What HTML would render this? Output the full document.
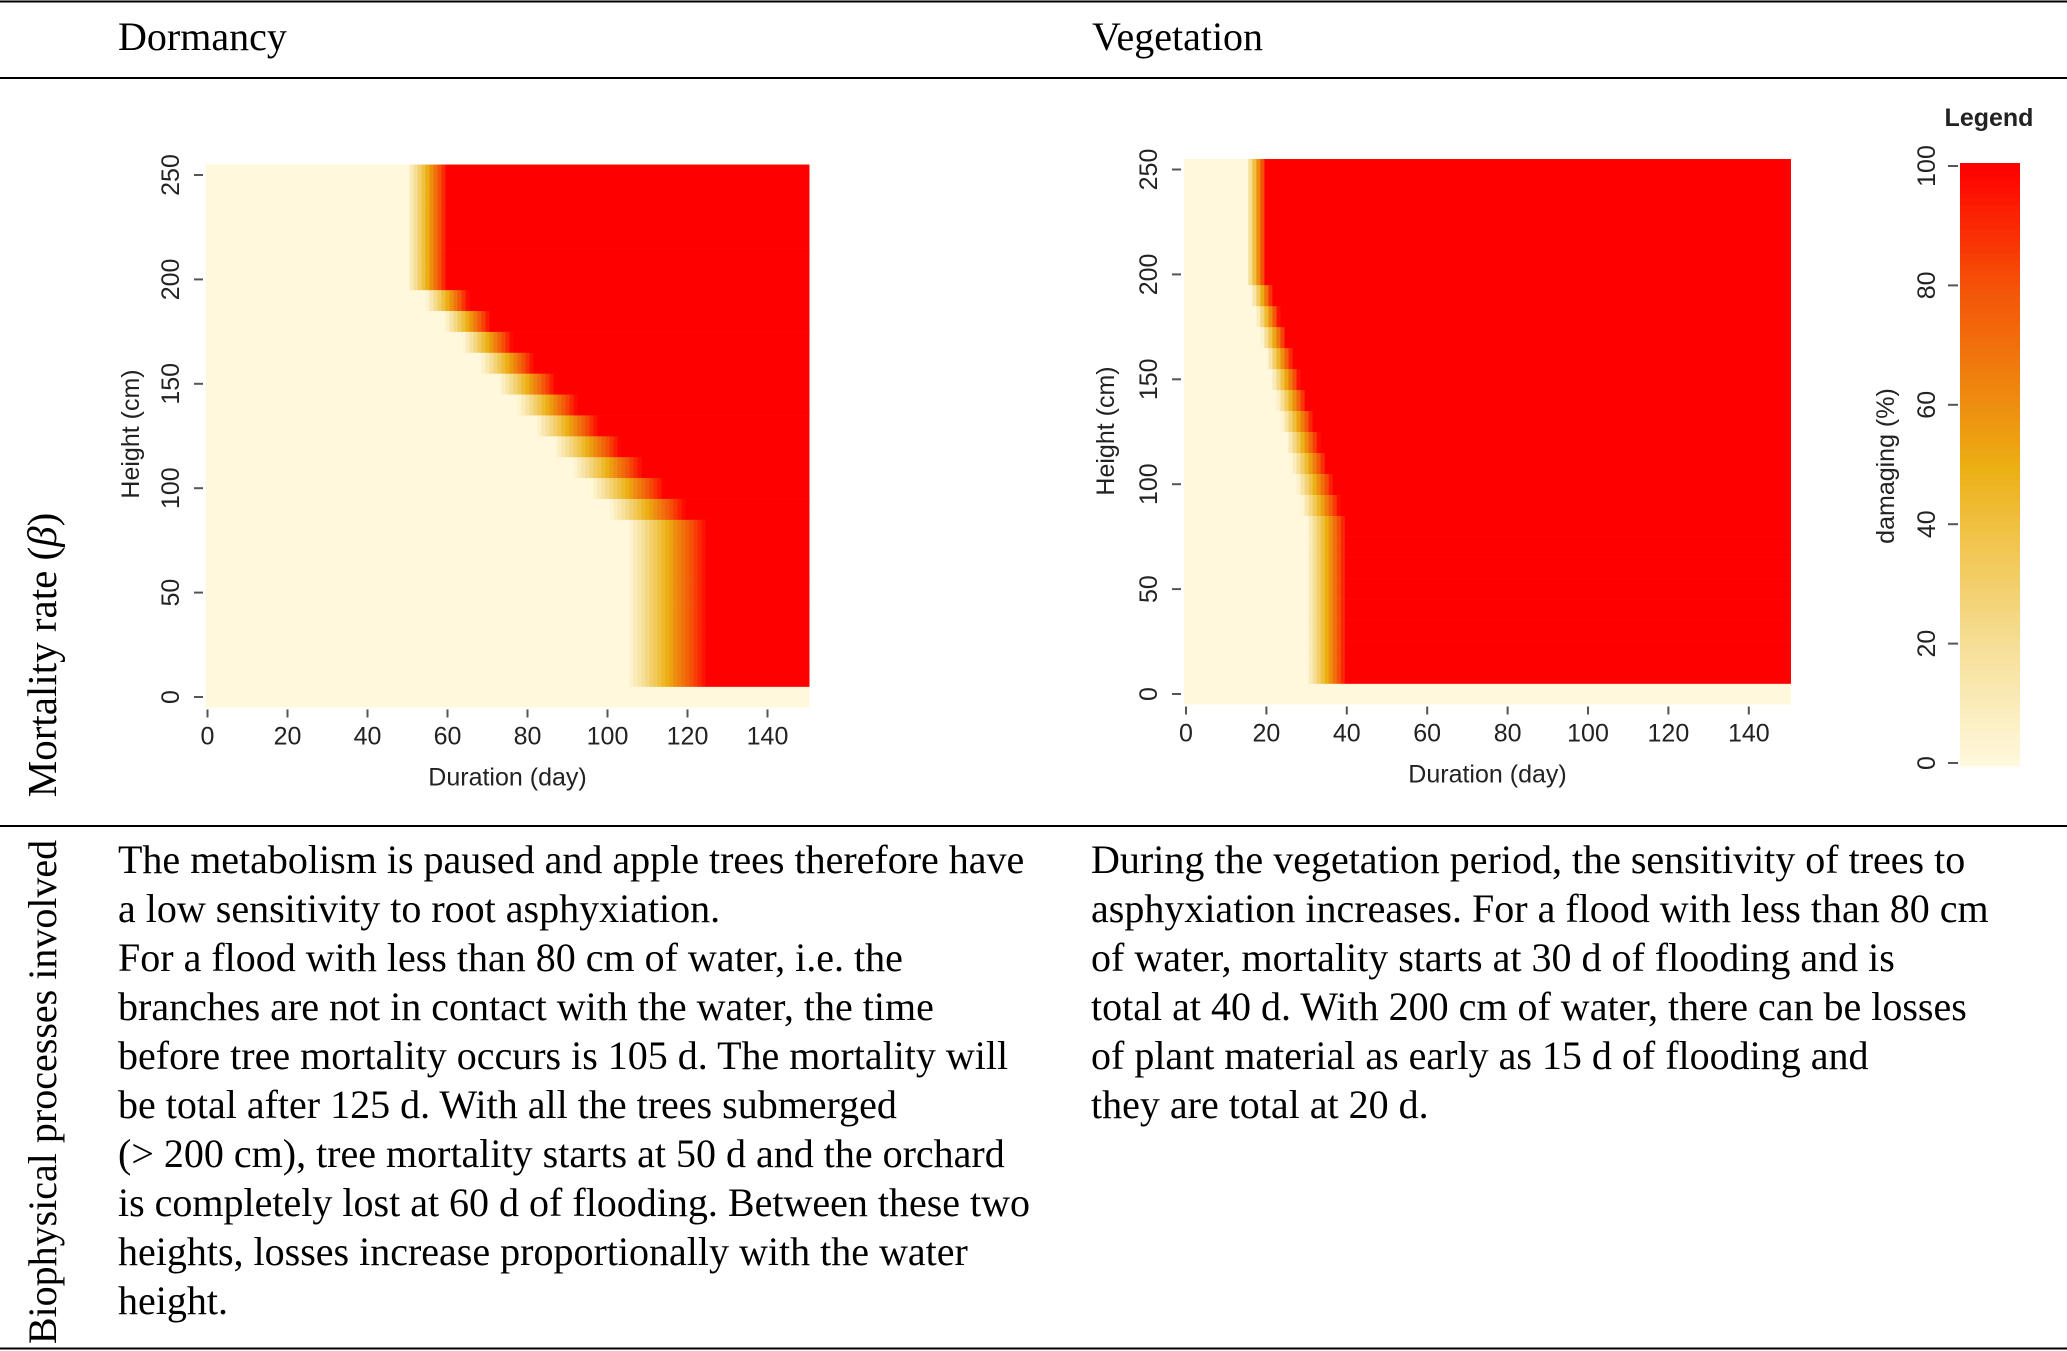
<!DOCTYPE html>
<html><head><meta charset="utf-8">
<style>
html,body{margin:0;padding:0;background:#fff;}
svg{display:block;}
.serif{font-family:"Liberation Serif",serif;fill:#000;}
.sans{font-family:"Liberation Sans",sans-serif;fill:#222;}
</style></head>
<body>
<svg id="root" width="2067" height="1351" viewBox="0 0 2067 1351" xmlns="http://www.w3.org/2000/svg">
  <line x1="0" y1="1.5" x2="2067" y2="1.5" stroke="#000" stroke-width="2"/>
  <line x1="0" y1="78" x2="2067" y2="78" stroke="#000" stroke-width="2"/>
  <line x1="0" y1="826" x2="2067" y2="826" stroke="#000" stroke-width="2"/>
  <line x1="0" y1="1348.5" x2="2067" y2="1348.5" stroke="#000" stroke-width="2"/>
  <text class="serif" x="118" y="50" font-size="40">Dormancy</text>
  <text class="serif" x="1092" y="50" font-size="40">Vegetation</text>
  <text class="serif" font-size="41" transform="translate(56,655) rotate(-90)" text-anchor="middle">Mortality rate (<tspan font-style="italic">β</tspan>)</text>
  <text class="serif" font-size="40" transform="translate(56,1092) rotate(-90)" text-anchor="middle">Biophysical processes involved</text>
  <g id="plots"></g>
  <g class="serif" font-size="40">
    <text x="118" y="873">The metabolism is paused and apple trees therefore have</text>
    <text x="118" y="922">a low sensitivity to root asphyxiation.</text>
    <text x="118" y="971">For a flood with less than 80 cm of water, i.e. the</text>
    <text x="118" y="1020">branches are not in contact with the water, the time</text>
    <text x="118" y="1069">before tree mortality occurs is 105 d. The mortality will</text>
    <text x="118" y="1118">be total after 125 d. With all the trees submerged</text>
    <text x="118" y="1167">(&gt; 200 cm), tree mortality starts at 50 d and the orchard</text>
    <text x="118" y="1216">is completely lost at 60 d of flooding. Between these two</text>
    <text x="118" y="1265">heights, losses increase proportionally with the water</text>
    <text x="118" y="1314">height.</text>
  </g>
  <g class="serif" font-size="40">
    <text x="1091" y="873">During the vegetation period, the sensitivity of trees to</text>
    <text x="1091" y="922">asphyxiation increases. For a flood with less than 80 cm</text>
    <text x="1091" y="971">of water, mortality starts at 30 d of flooding and is</text>
    <text x="1091" y="1020">total at 40 d. With 200 cm of water, there can be losses</text>
    <text x="1091" y="1069">of plant material as early as 15 d of flooding and</text>
    <text x="1091" y="1118">they are total at 20 d.</text>
  </g>
</svg>
<script>
const rowHeights = [0,10,20,30,40,50,60,70,80,90,100,110,120,130,140,150,160,170,180,190,200,210,220,230,240,250];
const dormStart = [null,105,105,105,105,105,105,105,105,100.4,95.8,91.3,86.7,82.1,77.5,72.9,68.3,63.8,59.2,54.6,50,50,50,50,50,50];
const dormEnd   = [null,125,125,125,125,125,125,125,125,119.6,114.2,108.8,103.3,97.9,92.5,87.1,81.7,76.3,70.8,65.4,60,60,60,60,60,60];
const vegStart  = [null,30,30,30,30,30,30,30,30,28.75,27.5,26.25,25,23.75,22.5,21.25,20,18.75,17.5,16.25,15,15,15,15,15,15];
const vegEnd    = [null,40,40,40,40,40,40,40,40,38.3,36.7,35,33.3,31.7,30,28.3,26.7,25,23.3,21.7,20,20,20,20,20,20];
const xTicks = [0,20,40,60,80,100,120,140];
const yTicks = [0,50,100,150,200,250];
const legendTicks = [0,20,40,60,80,100];
const maxDay = 150;

const NS = "http://www.w3.org/2000/svg";
const stops = [[0,[255,248,220]],[20,[246,222,150]],[40,[240,192,64]],[50,[236,174,18]],[60,[238,142,16]],[80,[245,82,8]],[100,[255,0,0]]];
function color(v){
  v = Math.max(0,Math.min(100,v));
  for(let i=1;i<stops.length;i++){
    if(v<=stops[i][0]){
      const a=stops[i-1], b=stops[i], t=(v-a[0])/(b[0]-a[0]);
      const c=a[1].map((x,k)=>Math.round(x+(b[1][k]-x)*t));
      return `rgb(${c[0]},${c[1]},${c[2]})`;
    }
  }
  return "rgb(255,0,0)";
}
function mk(tag, attrs, parent){
  const e=document.createElementNS(NS,tag);
  for(const k in attrs) e.setAttribute(k,attrs[k]);
  parent.appendChild(e); return e;
}
const plots=document.getElementById('plots');
const FS = 25;

function drawHeatmap(name, starts, ends, x0, xs, y0, ys, tickX, labX, hLabX, hLabY){
  const xScale = d => x0 + xs*d;
  const yScale = h => y0 - ys*h;
  const g = mk('g',{},plots);
  
  
  const bg = mk('rect',{x:xScale(-0.5),y:yScale(255),width:xScale(maxDay+0.5)-xScale(-0.5),height:yScale(-5)-yScale(255),fill:color(0)},g);
  
  
  rowHeights.forEach((h,i)=>{
    const s=starts[i], e=ends[i];
    if(s===null) return;
    const yt=yScale(h+5), yb=yScale(h-5);
    for(let d=0; d<=maxDay; d++){
      const v=(d-s)/(e-s)*100;
      if(v<=0) continue;
      if(v>=100){
        const r=mk('rect',{x:xScale(d-0.5),y:yt,width:xScale(maxDay+0.5)-xScale(d-0.5),height:yb-yt+0.3,fill:color(100)},g);
        
        
        break;
      }
      const c=mk('rect',{x:xScale(d-0.5),y:yt,width:xs+0.4,height:yb-yt+0.3,fill:color(v)},g);
      
      
    }
  });
  const ax=mk('g',{},plots);
  
  
  const yAx0 = yScale(-5);
  xTicks.forEach(t=>{
    mk('line',{x1:xScale(t),x2:xScale(t),y1:yAx0+2,y2:yAx0+10,stroke:'#555','stroke-width':2},ax);
    const tx=mk('text',{x:xScale(t),y:yAx0+37,'text-anchor':'middle','font-size':FS,class:'sans'},ax);
    tx.textContent=t;
    
    
  });
  const xt=mk('text',{x:(xScale(0)+xScale(150))/2,y:yAx0+78,'text-anchor':'middle','font-size':FS,class:'sans'},ax);
  xt.textContent='Duration (day)';
  
  
  const ay=mk('g',{},plots);
  
  
  yTicks.forEach(t=>{
    mk('line',{x1:tickX,x2:tickX+9,y1:yScale(t),y2:yScale(t),stroke:'#555','stroke-width':2},ay);
    const tx=mk('text',{transform:`translate(${labX},${yScale(t)}) rotate(-90)`,'text-anchor':'middle','font-size':FS,class:'sans'},ay);
    tx.textContent=t;
    
    
  });
  const yt2=mk('text',{transform:`translate(${hLabX},${hLabY}) rotate(-90)`,'text-anchor':'middle','font-size':FS,class:'sans'},ay);
  yt2.textContent='Height (cm)';
  
  
}
drawHeatmap('dormancy', dormStart, dormEnd, 207.5, 4.0, 697, 2.088, 194, 179, 139, 434);
drawHeatmap('vegetation', vegStart, vegEnd, 1186, 4.02, 694, 2.098, 1172, 1157, 1114, 431);

const lg=mk('g',{},plots);


const lt=mk('text',{x:1989,y:126,'text-anchor':'middle','font-size':FS,'font-weight':'bold',class:'sans'},lg);
lt.textContent='Legend';


const lScale = v => 763 - (763-166)*v/100;
for(let v=0; v<=100; v++){
  const r=mk('rect',{x:1960,y:lScale(v+0.5),width:60,height:lScale(v-0.5)-lScale(v+0.5)+0.5,fill:color(v)},lg);
  
  
}
legendTicks.forEach(t=>{
  mk('line',{x1:1948,x2:1958,y1:lScale(t),y2:lScale(t),stroke:'#555','stroke-width':2},lg);
  const tx=mk('text',{transform:`translate(${1935},${lScale(t)}) rotate(-90)`,'text-anchor':'middle','font-size':FS,class:'sans'},lg);
  tx.textContent=t;
  
  
});
const lab=mk('text',{transform:'translate(1894,466) rotate(-90)','text-anchor':'middle','font-size':FS,class:'sans'},lg);
lab.textContent='damaging (%)';


</script>
</body></html>
